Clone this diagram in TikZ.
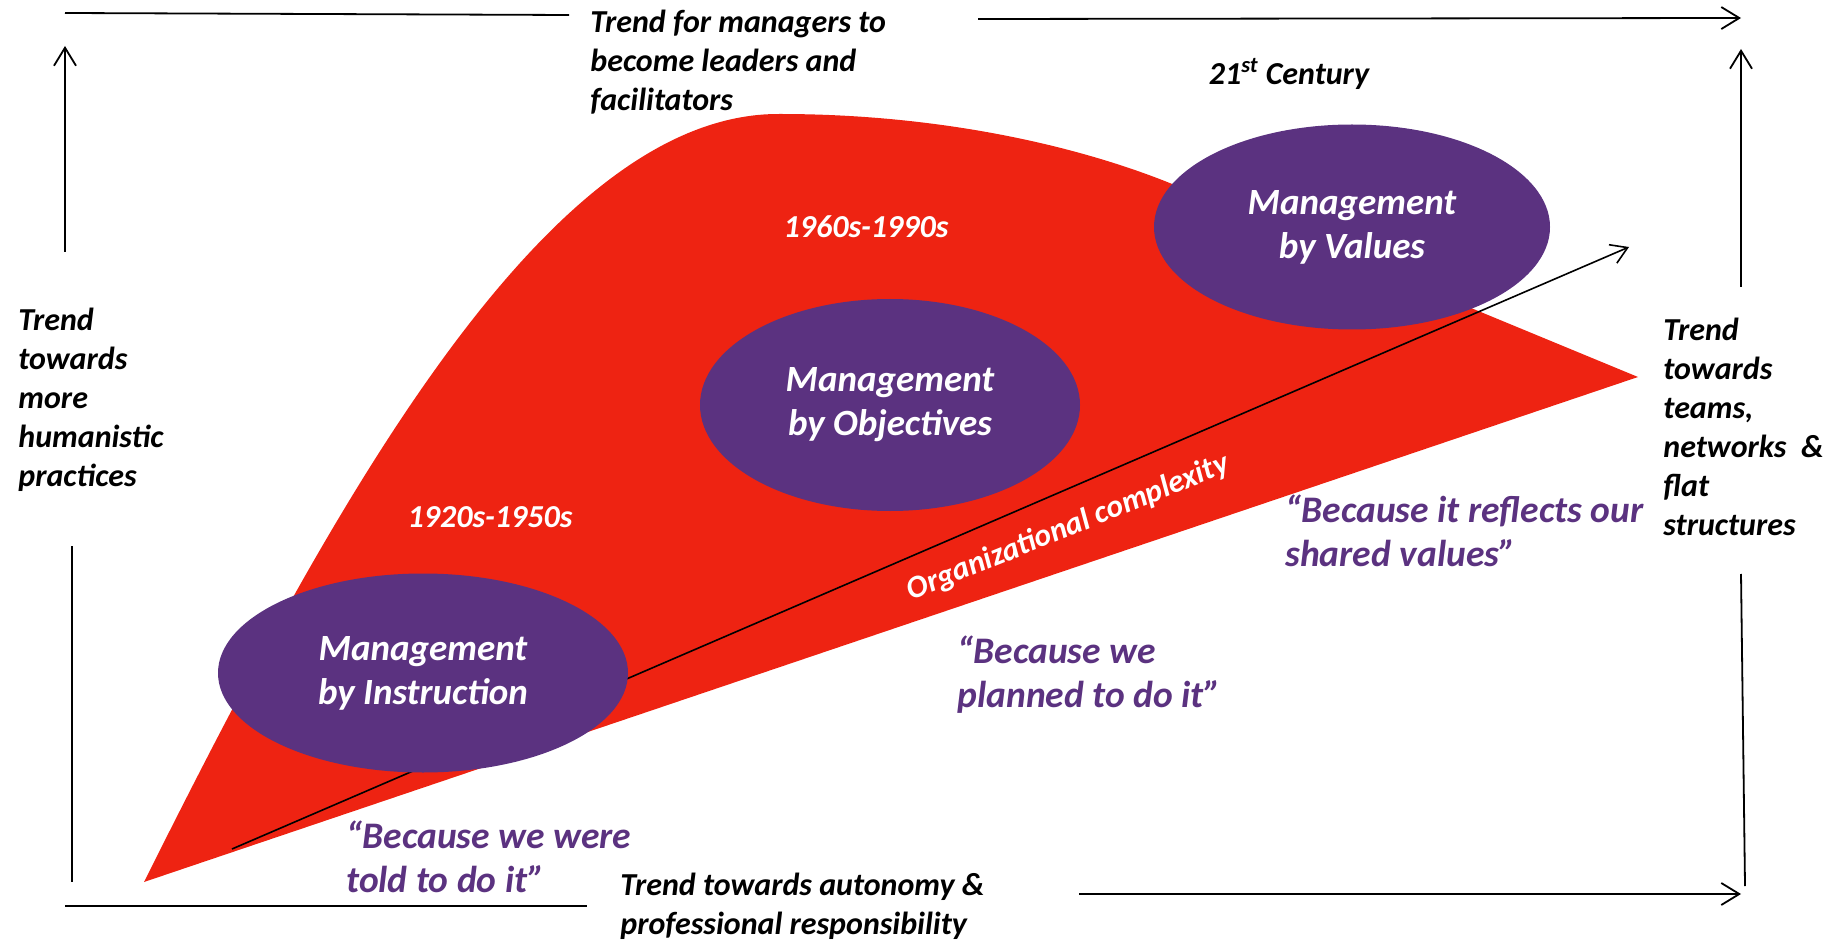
\documentclass[tikz,border=0pt]{standalone}
\usepackage{fontspec}
\setmainfont{Carlito}
\usetikzlibrary{shapes.geometric,arrows.meta}
\definecolor{mgred}{HTML}{EE2312}
\definecolor{mgpurple}{HTML}{5B3280}
\tikzset{
  stage/.style={ellipse, fill=mgpurple, text=white, align=center, inner sep=0pt,
    font=\fontsize{18.5}{22}\selectfont\bfseries\itshape},
  trend/.style={align=left, inner sep=0pt,
    font=\fontsize{16}{19.5}\selectfont\bfseries\itshape},
  era/.style={text=white, inner sep=0pt,
    font=\fontsize{16}{18}\selectfont\bfseries\itshape},
  motto/.style={text=mgpurple, align=left, inner sep=0pt,
    font=\fontsize{18.75}{22}\selectfont\bfseries\itshape},
  axis/.style={line width=0.9pt},
  trendarrow/.style={axis, -{Straight Barb[length=9pt,width=11pt]}},
}

\begin{document}
\begin{tikzpicture}[x=0.5pt,y=-0.5pt]
    \useasboundingbox (0,0) rectangle (1835,946);
    % frame ends
    \coordinate (tl1) at (65,13);
    \coordinate (tl2) at (569,15);
    \coordinate (tr1) at (978,19);
    \coordinate (tr2) at (1741,18);
    \coordinate (lu1) at (65,252);
    \coordinate (lu2) at (65,46);
    \coordinate (ll1) at (72,546);
    \coordinate (ll2) at (72,882);
    \coordinate (bl1) at (65,906);
    \coordinate (bl2) at (587,906);
    \coordinate (br1) at (1079,894);
    \coordinate (br2) at (1741,894);
    \coordinate (ru1) at (1741,287);
    \coordinate (ru2) at (1741,49);
    \coordinate (rl1) at (1741,574);
    \coordinate (rl2) at (1745,886);
    \coordinate (cx1) at (232,849);
    \coordinate (cx2) at (1629,247);
    % red wedge
    \fill[mgred] (144,882) .. controls (330,510) and (545,112) .. (780,114)
        .. controls (950,114) and (1100,150) .. (1200,196)
        -- (1638,377) -- cycle;
    % complexity arrow
    \draw[line width=0.8pt, -{Straight Barb[length=8pt,width=10pt]}] (cx1) -- (cx2);
    \node[rotate=22, text=white, inner sep=0pt,
        font=\fontsize{15.8}{18}\selectfont\bfseries\itshape] (cplx) at (1068,528) {Organizational complexity};
    % stages
    \node[stage, minimum width=205pt, minimum height=99.5pt] (mbi) at (423,673) {Management\\by Instruction};
    \node[stage, minimum width=190pt, minimum height=106pt] (mbo) at (890,405) {Management\\by Objectives};
    \node[stage, minimum width=198pt, minimum height=102.5pt] (mbv) at (1352,227) {Management\\by Values};
    \node[era] (e1) at (490,517) {1920s-1950s};
    \node[era] (e2) at (866,227) {1960s-1990s};
    \node[trend] (e3) at (1289,74) {21\textsuperscript{st} Century};
    % mottos
    \node[motto, anchor=west] (q1) at (346,857) {“Because we were\\told to do it”};
    \node[motto, anchor=west] (q2) at (957,675) {“Because we\\planned to do it”};
    \node[motto, anchor=west] (q3) at (1285,531) {“Because it reflects our\\shared values”};
    % trends
    \node[trend, anchor=west] (ttop) at (590,62) {Trend for managers to\\become leaders and\\facilitators};
    \node[trend, anchor=west] (tleft) at (18,400) {Trend\\towards\\more\\humanistic\\practices};
    \node[trend, anchor=west] (tright) at (1663,427) {Trend\\towards\\teams,\\networks~~\&\\flat\\structures};
    \node[trend, anchor=west] (tbot) at (620,906) {Trend towards autonomy \&\\professional responsibility};
    % frame
    \draw[axis] (tl1) -- (tl2);
    \draw[trendarrow] (tr1) -- (tr2);
    \draw[trendarrow] (lu1) -- (lu2);
    \draw[axis] (ll1) -- (ll2);
    \draw[axis] (bl1) -- (bl2);
    \draw[trendarrow] (br1) -- (br2);
    \draw[trendarrow] (ru1) -- (ru2);
    \draw[axis] (rl1) -- (rl2);
\end{tikzpicture}
\end{document}
